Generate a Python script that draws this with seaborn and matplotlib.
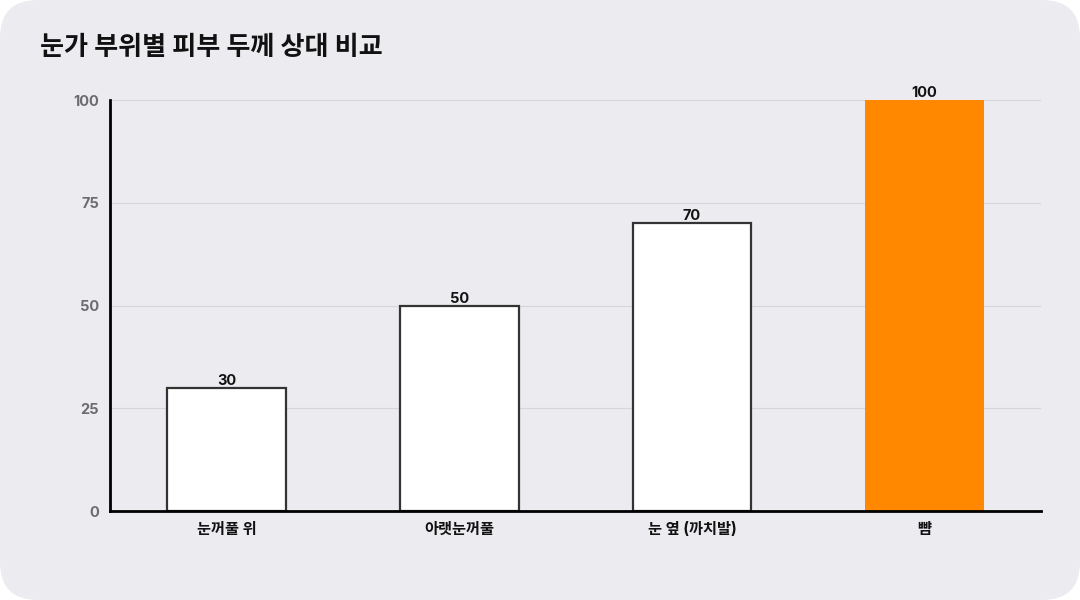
import matplotlib
matplotlib.use("Agg")
import matplotlib.pyplot as plt
from matplotlib.patches import FancyBboxPatch
import seaborn as sns
import pandas as pd

# 데이터
categories = ["눈꺼풀 위", "아랫눈꺼풀", "눈 옆 (까치발)", "뺨"]
thickness = [30, 50, 70, 100]
bar_colors = ["#FFFFFF", "#FFFFFF", "#FFFFFF", "#FF8800"]
y_ticks = [0, 25, 50, 75, 100]

bg = "#ECEBF0"
sns.set_theme(style="white")
plt.rcParams["font.family"] = ["Inter", "Noto Sans CJK KR", "DejaVu Sans"]

df = pd.DataFrame({"부위": categories, "두께": thickness})

fig = plt.figure(figsize=(10.8, 6.0), dpi=100)
fig.patch.set_facecolor("white")
card = FancyBboxPatch((0, 0), 1, 1, boxstyle="round,pad=0,rounding_size=0.035",
                      transform=fig.transFigure, facecolor=bg, edgecolor="none",
                      mutation_aspect=1.8, zorder=-10)
fig.patches.append(card)

ax = fig.add_axes([0.1019, 0.1483, 0.862, 0.685])
ax.set_facecolor(bg)

sns.barplot(data=df, x="부위", y="두께", hue="부위", palette=bar_colors,
            saturation=1, legend=False, width=0.51, ax=ax, zorder=3)

for patch, c in zip(ax.patches, bar_colors):
    if c == "#FFFFFF":
        patch.set_edgecolor("#333333")
        patch.set_linewidth(1.6)
    else:
        patch.set_edgecolor("none")

for i, v in enumerate(thickness):
    ax.text(i, v, str(v), ha="center", va="bottom", fontsize=10.5,
            fontweight="bold", color="#111111", zorder=5)

ax.set_xlim(-0.5, 3.5)
ax.set_ylim(0, 100)
ax.set_yticks(y_ticks)
ax.yaxis.grid(True, color="#D6D5DB", linewidth=0.8, zorder=0)
ax.set_axisbelow(True)
ax.tick_params(axis="y", length=0, labelsize=10.5, labelcolor="#6B6B70", pad=8)
ax.tick_params(axis="x", length=0, labelsize=11, pad=8)
for lbl in ax.get_yticklabels():
    lbl.set_fontweight("bold")
for lbl in ax.get_xticklabels():
    lbl.set_fontweight("bold")
    lbl.set_color("#111111")

ax.set_xlabel("")
ax.set_ylabel("")
for s in ["top", "right"]:
    ax.spines[s].set_visible(False)
for s in ["left", "bottom"]:
    ax.spines[s].set_color("#000000")
    ax.spines[s].set_linewidth(2)
    ax.spines[s].set_zorder(6)

fig.text(0.037, 0.92, "눈가 부위별 피부 두께 상대 비교", fontsize=18.8,
         fontweight="bold", color="#111111", va="center", ha="left")

fig.savefig("out.png", dpi=100, facecolor=fig.get_facecolor())
